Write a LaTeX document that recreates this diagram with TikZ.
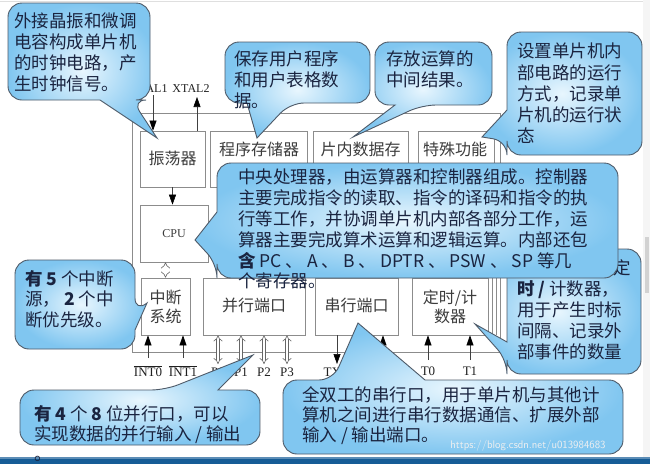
\documentclass[tikz,border=0pt]{standalone}
\usepackage{fontspec}
\setmainfont{Liberation Serif}
\newfontfamily\cjk{Noto Sans CJK SC}
\usetikzlibrary{arrows.meta}
\definecolor{cfillA}{RGB}{232,246,254}
\definecolor{cfillB}{RGB}{128,198,240}
\definecolor{cline}{RGB}{78,90,104}
\definecolor{ctext}{RGB}{26,36,64}
\definecolor{boxline}{RGB}{140,140,140}
\definecolor{boxtext}{RGB}{60,60,60}
\definecolor{barblue}{RGB}{22,92,150}
\tikzset{
 co/.style={draw=cline, line width=0.9pt, inner color=cfillA, outer color=cfillB, rounded corners=14pt},
 cot/.style={anchor=north west, inner sep=0pt, align=left, text=ctext, font=\cjk\fontsize{17.5}{20.8}\selectfont},
 blk/.style={draw=boxline, line width=0.7pt, fill=white, inner sep=0pt},
 blt/.style={inner sep=0pt, text=boxtext, font=\cjk\fontsize{16}{19.5}\selectfont, align=center},
 arr/.style={draw=gray!50!black, line width=0.6pt, -{Triangle[width=7pt,length=10pt,color=black]}},
 harr/.style={draw=gray!80!black, line width=0.6pt, double=white, double distance=2.6pt, {Implies}-{Implies}},
 pl/.style={inner sep=0pt, text=gray!25!black, font=\fontsize{13}{15}\selectfont},
}
\begin{document}
\begin{tikzpicture}[x=1pt,y=-1pt]
\useasboundingbox (0,0) rectangle (650,464);
\fill[white] (0,0) rectangle (650,464);
% window frame
\draw[gray!25, line width=0.8pt] (0,1.5) -- (643,1.5);
\fill[gray!8] (643,0) rectangle (650,457);
\fill[gray!35] (644.5,237) rectangle (649,293);
\fill[barblue] (0,457) rectangle (650,464);
\fill[barblue!70!white] (0,457) rectangle (650,458.5);

% main chip box
\node[blk, minimum width=368, minimum height=239] (mcu) at (316,232.5) {};
% first row
\node[blk, minimum width=65, minimum height=56] (osc) at (172.5,159) {};
\node[blt] (osct) at (172.5,158) {振荡器};
\node[blk, minimum width=97, minimum height=56] (prog) at (258.5,159) {};
\node[blt] (progt) at (259,149) {程序存储器};
\node[blk, minimum width=95, minimum height=56] (dmem) at (360.5,159) {};
\node[blt] (dmemt) at (360.5,149) {片内数据存};
\node[blk, minimum width=76, minimum height=56] (sfr) at (456,159) {};
\node[blt] (sfrt) at (455,149) {特殊功能};
% cpu
\node[blk, minimum width=68, minimum height=57, font=\fontsize{12}{14}\selectfont, text=boxtext] (cpu) at (174,233.5) {CPU};
% third row
\node[blk, minimum width=49, minimum height=57] (intsys) at (165.5,306.5) {};
\node[blt] (intsyst) at (165.5,307) {中断\\系统};
\node[blk, minimum width=102, minimum height=57] (par) at (254,306.5) {};
\node[blt] (part) at (254,305) {并行端口};
\node[blk, minimum width=83, minimum height=57] (ser) at (356.5,306.5) {};
\node[blt] (sert) at (356.5,305) {串行端口};
\node[blk, minimum width=76, minimum height=57] (tim) at (450,306.5) {};
\node[blt] (timt) at (450,307) {定时/计\\数器};
\draw[boxline, line width=0.7pt] (492.5,278) -- (492.5,335) (496.5,278) -- (496.5,335);

% external signals
\coordinate (xa) at (153,95);
\coordinate (xb) at (197,97);
\node[pl, font=\fontsize{12}{14}\selectfont] (xal1) at (149,89) {XTAL1};
\node[pl, font=\fontsize{12}{14}\selectfont] (xal2) at (191,89) {XTAL2};
\draw[arr] (xa) -- (osc.north -| xa);
\draw[arr] (osc.north -| xb) -- (xb);
\draw[arr] (osc.south) -- (osc.south |- cpu.north);
\draw[harr] (cpu.south -| intsys) -- (intsys.north);

\coordinate (i0) at (148,358);
\coordinate (i1) at (183,358);
\draw[arr] (i0) -- (intsys.south -| i0);
\draw[arr] (i1) -- (intsys.south -| i1);
\node[pl] (i0l) at (148,371) {$\overline{\mbox{INT0}}$};
\node[pl] (i1l) at (183,371) {$\overline{\mbox{INT1}}$};

\coordinate (p0) at (218,364);
\coordinate (p1) at (241,364);
\coordinate (p2) at (264,364);
\coordinate (p3) at (287,364);
\draw[harr] (par.south -| p0) -- (p0);
\draw[harr] (par.south -| p1) -- (p1);
\draw[harr] (par.south -| p2) -- (p2);
\draw[harr] (par.south -| p3) -- (p3);
\node[pl] (p0l) at (218,372) {P0};
\node[pl] (p1l) at (241,372) {P1};
\node[pl] (p2l) at (264,372) {P2};
\node[pl] (p3l) at (287,372) {P3};

\coordinate (tx) at (337,364);
\coordinate (rx) at (383,360);
\draw[arr] (ser.south -| tx) -- (tx);
\draw[arr] (rx) -- (ser.south -| rx);
\node[pl] (txl) at (337,372) {TXD};
\node[pl] (rxl) at (383,372) {RXD};

\coordinate (t0) at (428,360);
\coordinate (t1) at (470,360);
\draw[arr] (t0) -- (tim.south -| t0);
\draw[arr] (t1) -- (tim.south -| t1);
\node[pl] (t0l) at (428,371) {T0};
\node[pl] (t1l) at (470,371) {T1};

% callout 1
\path[co] (79,3) -- (150,3) -- (150,100) -- (132,100) [sharp corners] -- (157,138) -- (100,100) [rounded corners=14pt] -- (8,100) -- (8,3) -- cycle;
\node[cot] (c1) at (14,13) {外接晶振和微调\\电容构成单片机\\的时钟电路，产\\生时钟信号。};
% callout 2
\path[co] (297,42) -- (370,42) -- (370,103) -- (290,103) [sharp corners] -- (257,138) -- (247,103) [rounded corners=14pt] -- (225,103) -- (225,42) -- cycle;
\node[cot] (c2) at (234,51) {保存用户程序\\和用户表格数\\据。};
% callout 3
\path[co] (433,42) -- (492,42) -- (492,105) -- (422,105) [sharp corners] -- (353,137) -- (395,105) [rounded corners=14pt] -- (375,105) -- (375,42) -- cycle;
\node[cot] (c3) at (386,51) {存放运算的\\中间结果。};
% callout 4
\path[co] (575,32) -- (642,32) -- (642,155) -- (507,155) -- (507,141) [sharp corners] -- (482,137) -- (507,110) [rounded corners=14pt] -- (507,32) -- cycle;
\node[cot, font=\cjk\fontsize{17.5}{21.2}\selectfont] (c4) at (517,43) {设置单片机内\\部电路的运行\\方式，记录单\\片机的运行状\\态};
% callout timer
\path[co] (574,249) -- (641,249) -- (641,374) -- (507,374) -- (507,360) [sharp corners] -- (475,324) -- (507,342) [rounded corners=14pt] -- (507,249) -- cycle;
\node[cot, font=\cjk\fontsize{17.5}{21.2}\selectfont] (c9) at (517,259) {\hspace*{96pt}定\\\textbf{时 /} 计数器，\\用于产生时标\\间隔、记录外\\部事件的数量};
% callout cpu
\path[co] (417,163) -- (618,163) -- (618,278) -- (217,278) -- (217,264) [sharp corners] -- (195,240) -- (217,212) [rounded corners=14pt] -- (217,163) -- cycle;
\node[cot] (c5) at (238,169) {中央处理器，由运算器和控制器组成。控制器\\主要完成指令的读取、指令的译码和指令的执\\行等工作，并协调单片机内部各部分工作，运\\算器主要完成算术运算和逻辑运算。内部还包\\\textbf{含} PC 、 A 、 B 、 DPTR 、 PSW 、 SP 等几\\个寄存器。};
% callout interrupts
\path[co] (75,260) -- (135,260) -- (135,312) [sharp corners] -- (147,303) -- (135,330) [rounded corners=14pt] -- (135,349) -- (15,349) -- (15,260) -- cycle;
\node[cot] (c6) at (25,270) {\textbf{有 5} 个中断\\源， \textbf{2} 个中\\断优先级。};
% callout parallel
\path[co] (140,445) -- (20,445) -- (20,390) -- (165,390) [sharp corners] -- (253,355) -- (218,390) [rounded corners=14pt] -- (260,390) -- (260,445) -- cycle;
\node[cot, font=\cjk\fontsize{17.5}{20.4}\selectfont] (c7) at (34,405) {\textbf{有 4} 个 \textbf{8} 位并行口，可以\\实现数据的并行输入 / 输出\\。};
% callout serial
\path[co] (450,454) -- (283,454) -- (283,380) -- (333,380) [sharp corners] -- (358,323) -- (425,380) [rounded corners=14pt] -- (623,380) -- (623,454) -- cycle;
\node[cot, font=\cjk\fontsize{17.5}{20.2}\selectfont] (c8) at (302,386) {全双工的串行口，用于单片机与其他计\\算机之间进行串行数据通信、扩展外部\\输入 / 输出端口。};
\node[inner sep=0pt, text=white!88!gray, font=\sffamily\fontsize{11}{13}\selectfont] (wm) at (528,446) {https://blog.csdn.net/u013984683};
\end{tikzpicture}
\end{document}
